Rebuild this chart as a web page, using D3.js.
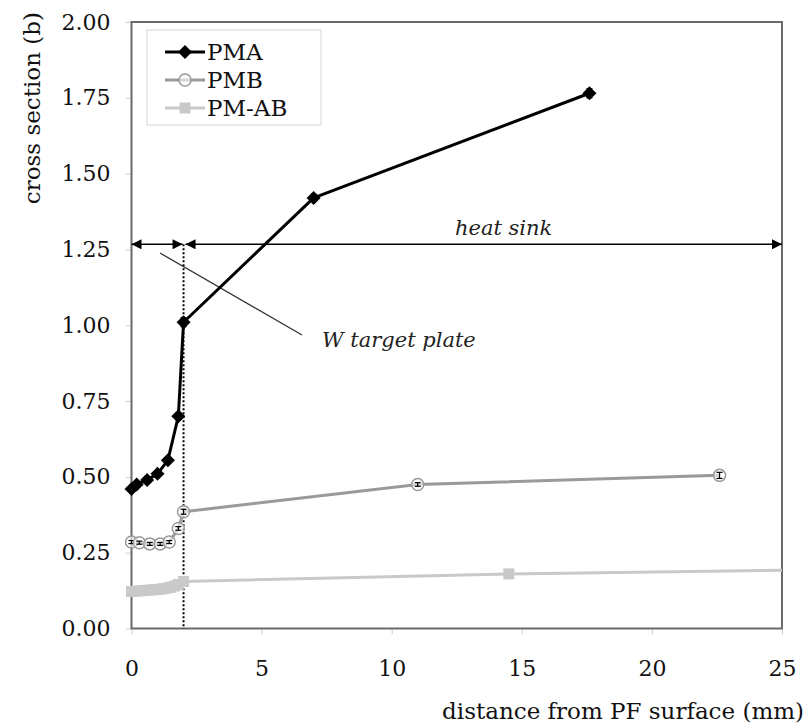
<!DOCTYPE html>
<html>
<head>
<meta charset="utf-8">
<script src="https://cdn.jsdelivr.net/npm/d3@7/dist/d3.min.js"></script>
<style>
  html, body { margin: 0; padding: 0; background: #fff; }
  svg { display: block; }
  text { font-family: "DejaVu Serif", Georgia, serif; }
</style>
</head>
<body>
<svg id="chart" width="807" height="725"></svg>
<script>
// ---- data ----
const pmaX = [0, 0.2, 0.6, 1.0, 1.4, 1.8, 2.0, 7.0, 17.6];
const pmaY = [0.46, 0.475, 0.49, 0.51, 0.555, 0.70, 1.01, 1.42, 1.765];
const pmaErr = [0.008, 0.008, 0.008, 0.008, 0.008, 0.01, 0.015, 0.012, 0.015];

const pmbX = [0, 0.3, 0.7, 1.1, 1.45, 1.8, 2.0, 11.0, 22.6];
const pmbY = [0.285, 0.283, 0.279, 0.279, 0.285, 0.33, 0.385, 0.475, 0.505];
const pmbErr = [0.005, 0.005, 0.005, 0.005, 0.005, 0.006, 0.008, 0.006, 0.01];

const pmabX = [0, 0.15, 0.3, 0.45, 0.6, 0.75, 0.9, 1.05, 1.2, 1.35, 1.5, 1.65, 1.8, 2.0, 14.5, 30];
const pmabY = [0.122, 0.123, 0.124, 0.125, 0.126, 0.127, 0.128, 0.129, 0.131, 0.133, 0.136, 0.14, 0.145, 0.155, 0.18, 0.198];

const xTicks = [0, 5, 10, 15, 20, 25];
const yTicks = [0, 0.25, 0.5, 0.75, 1.0, 1.25, 1.5, 1.75, 2.0];
const seriesNames = ["PMA", "PMB", "PM-AB"];
const xTitle = "distance from PF surface (mm)";
const yTitle = "cross section (b)";
const wLabel = "W target plate";
const hsLabel = "heat sink";
const plateEnd = 2.0;
const arrowY = 1.267;

// ---- layout ----
const svg = d3.select("#chart");
const L = 131.5, R = 782, T = 22, B = 628.5;
const x = d3.scaleLinear().domain([0, 25]).range([L, R]);
const y = d3.scaleLinear().domain([0, 2]).range([B, T]);

const defs = svg.append("defs");
defs.append("clipPath").attr("id", "plotclip")
  .append("rect").attr("x", 0).attr("y", 0).attr("width", R).attr("height", 725);

// arrow markers
defs.append("marker").attr("id", "arrowEnd").attr("viewBox", "0 0 10 10")
  .attr("refX", 10).attr("refY", 5).attr("markerWidth", 12).attr("markerHeight", 10)
  .attr("markerUnits", "userSpaceOnUse").attr("orient", "auto")
  .append("path").attr("d", "M0,0 L10,5 L0,10 Z").attr("fill", "#000");
defs.append("marker").attr("id", "arrowStart").attr("viewBox", "0 0 10 10")
  .attr("refX", 0).attr("refY", 5).attr("markerWidth", 12).attr("markerHeight", 10)
  .attr("markerUnits", "userSpaceOnUse").attr("orient", "auto")
  .append("path").attr("d", "M10,0 L0,5 L10,10 Z").attr("fill", "#000");

// axes (ticks + labels)
const yAxis = d3.axisLeft(y).tickValues(yTicks).tickFormat(d3.format(".2f")).tickSize(6).tickPadding(15);
const gy = svg.append("g").attr("transform", `translate(${L},0)`).call(yAxis);
gy.select(".domain").remove();
gy.selectAll(".tick line").attr("stroke", "#d0d0d0");
gy.selectAll(".tick text").attr("font-size", 22).attr("fill", "#111")
  .attr("font-family", "DejaVu Serif");

const xAxis = d3.axisBottom(x).tickValues(xTicks).tickFormat(d3.format("d")).tickSize(6).tickPadding(26);
const gx = svg.append("g").attr("transform", `translate(0,${B})`).call(xAxis);
gx.select(".domain").remove();
gx.selectAll(".tick line").attr("stroke", "#d0d0d0");
gx.selectAll(".tick text").attr("font-size", 22).attr("fill", "#111")
  .attr("font-family", "DejaVu Serif");

// axis titles
svg.append("text").attr("x", 804).attr("y", 719).attr("text-anchor", "end")
  .attr("font-size", 23).attr("fill", "#111").text(xTitle);
svg.append("text").attr("transform", `translate(40,${12}) rotate(-90)`)
  .attr("text-anchor", "end").attr("font-size", 23).attr("fill", "#111").text(yTitle);

// frame
svg.append("rect").attr("x", L).attr("y", T).attr("width", R - L).attr("height", B - T)
  .attr("fill", "none").attr("stroke", "#6a6a6a").attr("stroke-width", 2);

// dotted plate boundary
svg.append("line").attr("x1", x(plateEnd)).attr("x2", x(plateEnd))
  .attr("y1", y(arrowY)).attr("y2", y(0))
  .attr("stroke", "#000").attr("stroke-width", 2).attr("stroke-dasharray", "2,2");

// dimension arrows
svg.append("line").attr("x1", x(0)).attr("x2", x(plateEnd) - 1)
  .attr("y1", y(arrowY)).attr("y2", y(arrowY))
  .attr("stroke", "#000").attr("stroke-width", 1.5)
  .attr("marker-start", "url(#arrowStart)").attr("marker-end", "url(#arrowEnd)");
svg.append("line").attr("x1", x(plateEnd) + 2).attr("x2", x(25))
  .attr("y1", y(arrowY)).attr("y2", y(arrowY))
  .attr("stroke", "#000").attr("stroke-width", 1.5)
  .attr("marker-start", "url(#arrowStart)").attr("marker-end", "url(#arrowEnd)");

// annotation leader
svg.append("line").attr("x1", 160).attr("y1", 253).attr("x2", 302).attr("y2", 335)
  .attr("stroke", "#333").attr("stroke-width", 1.3);
svg.append("text").attr("x", 322).attr("y", 347).attr("font-size", 21)
  .attr("font-style", "italic").attr("fill", "#222").text(wLabel);
svg.append("text").attr("x", 455).attr("y", 235).attr("font-size", 21)
  .attr("font-style", "italic").attr("fill", "#222").text(hsLabel);

// series
const series = [
  { name: seriesNames[2], xs: pmabX, ys: pmabY, err: null, color: "#c9c9c9", shape: "square" },
  { name: seriesNames[1], xs: pmbX, ys: pmbY, err: pmbErr, color: "#9a9a9a", shape: "circle" },
  { name: seriesNames[0], xs: pmaX, ys: pmaY, err: pmaErr, color: "#000000", shape: "diamond" }
];
const line = d3.line().x(d => x(d[0])).y(d => y(d[1]));
const plot = svg.append("g").attr("clip-path", "url(#plotclip)");

function drawMarker(g, shape, color, cx, cy) {
  if (shape === "square") {
    const s = 11;
    g.append("rect").attr("x", cx - s / 2).attr("y", cy - s / 2).attr("width", s).attr("height", s)
      .attr("fill", color);
  } else if (shape === "circle") {
    g.append("circle").attr("cx", cx).attr("cy", cy).attr("r", 6)
      .attr("fill", "#fff").attr("fill-opacity", 0.6).attr("stroke", color).attr("stroke-width", 1.5);
  } else {
    const s = 7;
    g.append("path").attr("d", `M${cx},${cy - s} L${cx + s},${cy} L${cx},${cy + s} L${cx - s},${cy} Z`)
      .attr("fill", color);
  }
}

series.forEach(s => {
  const pts = s.xs.map((v, i) => [v, s.ys[i]]);
  plot.append("path").datum(pts).attr("d", line).attr("fill", "none")
    .attr("stroke", s.color).attr("stroke-width", 3).attr("stroke-linejoin", "round");
  pts.forEach((p, i) => {
    drawMarker(plot, s.shape, s.color, x(p[0]), y(p[1]));
    if (s.err) {
      const e = s.err[i];
      const cx = x(p[0]);
      const g = plot.append("g").attr("stroke", "#000").attr("stroke-width", 1.2);
      g.append("line").attr("x1", cx).attr("x2", cx).attr("y1", y(p[1] - e)).attr("y2", y(p[1] + e));
      g.append("line").attr("x1", cx - 3).attr("x2", cx + 3).attr("y1", y(p[1] - e)).attr("y2", y(p[1] - e));
      g.append("line").attr("x1", cx - 3).attr("x2", cx + 3).attr("y1", y(p[1] + e)).attr("y2", y(p[1] + e));
    }
  });
});

// legend
const lg = svg.append("g");
lg.append("rect").attr("x", 147).attr("y", 30).attr("width", 174).attr("height", 95)
  .attr("fill", "#fff").attr("stroke", "#dcdcdc").attr("stroke-width", 1.2);
const legendItems = [series[2], series[1], series[0]];
legendItems.forEach((s, i) => {
  const ly = 52 + i * 28;
  lg.append("line").attr("x1", 165).attr("x2", 205).attr("y1", ly).attr("y2", ly)
    .attr("stroke", s.color).attr("stroke-width", 3);
  drawMarker(lg, s.shape, s.color, 185, ly);
  lg.append("text").attr("x", 207).attr("y", ly + 8).attr("font-size", 23)
    .attr("fill", "#111").text(s.name);
});
</script>
</body>
</html>
